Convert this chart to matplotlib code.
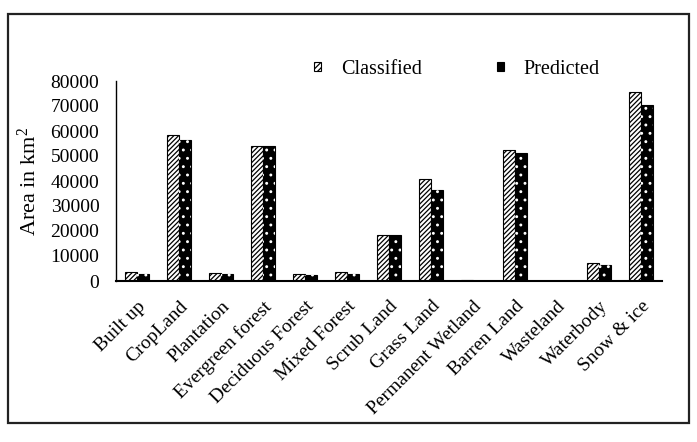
import matplotlib
matplotlib.use("Agg")
import matplotlib.pyplot as plt
import numpy as np
from matplotlib.patches import Patch, Rectangle

plt.rcParams['font.family'] = ['Liberation Serif', 'DejaVu Serif']
plt.rcParams['mathtext.fontset'] = 'custom'
plt.rcParams['mathtext.rm'] = 'Liberation Serif'
plt.rcParams['mathtext.it'] = 'Liberation Serif:italic'
plt.rcParams['mathtext.bf'] = 'Liberation Serif:bold'
plt.rcParams['hatch.linewidth'] = 0.9

categories = ["Built up", "CropLand", "Plantation", "Evergreen forest", "Deciduous Forest",
              "Mixed Forest", "Scrub Land", "Grass Land", "Permanent Wetland", "Barren Land",
              "Wasteland", "Waterbody", "Snow & ice"]
classified = [3700, 58400, 3100, 54000, 2700, 3500, 18400, 40700, 300, 52400, 200, 7100, 75500]
predicted = [2800, 56400, 2700, 54000, 2400, 3000, 18400, 36400, 200, 51100, 150, 6300, 70400]
yticks = [0, 10000, 20000, 30000, 40000, 50000, 60000, 70000, 80000]

fig = plt.figure(figsize=(6.97, 4.42), dpi=100)
ax = fig.add_axes([116/697, 1-281/442, (662-116)/697, 200/442])

x = np.arange(len(categories))
w = 0.29
ax.bar(x - w/2, classified, width=w, facecolor='white', edgecolor='black',
       hatch='///////', linewidth=0.8)
ax.bar(x + w/2, predicted, width=w, facecolor='black', edgecolor='black', linewidth=0.8)
ax.bar(x + w/2, predicted, width=w, facecolor='none', edgecolor='white', hatch='..', linewidth=0)

ax.set_xlim(-0.5, len(categories) - 0.5)
ax.set_ylim(0, 80000)
ax.set_yticks(yticks)
ax.set_yticklabels([str(v) for v in yticks], fontsize=14)
ax.set_xticks(x)
ax.set_xticklabels(categories, rotation=45, ha='right', rotation_mode='anchor', fontsize=14)
ax.tick_params(axis='both', length=0)
ax.tick_params(axis='y', pad=12)
ax.tick_params(axis='x', pad=12)
for s in ['top', 'right']:
    ax.spines[s].set_visible(False)
ax.spines['left'].set_linewidth(1)
ax.spines['bottom'].set_linewidth(1.5)

ax.set_ylabel("Area in km$^{2}$", fontsize=16, labelpad=7)

handles = [Patch(facecolor='white', edgecolor='black', hatch='//////', linewidth=0.8),
           Patch(facecolor='black', edgecolor='black', hatch='..', linewidth=0.8)]
fig.legend(handles, ["Classified", "Predicted"], loc='center',
           bbox_to_anchor=(457/697, 1-69/442), ncol=2, frameon=False, fontsize=14.5,
           handlelength=0.35, handleheight=0.35, handletextpad=1.0, columnspacing=3.7)

fig.patches.append(Rectangle((8/697, 1-423/442), (689-8)/697, (423-14)/442,
                             transform=fig.transFigure, fill=False, edgecolor='#222222',
                             linewidth=1.6))

fig.savefig("out.png", dpi=100)
